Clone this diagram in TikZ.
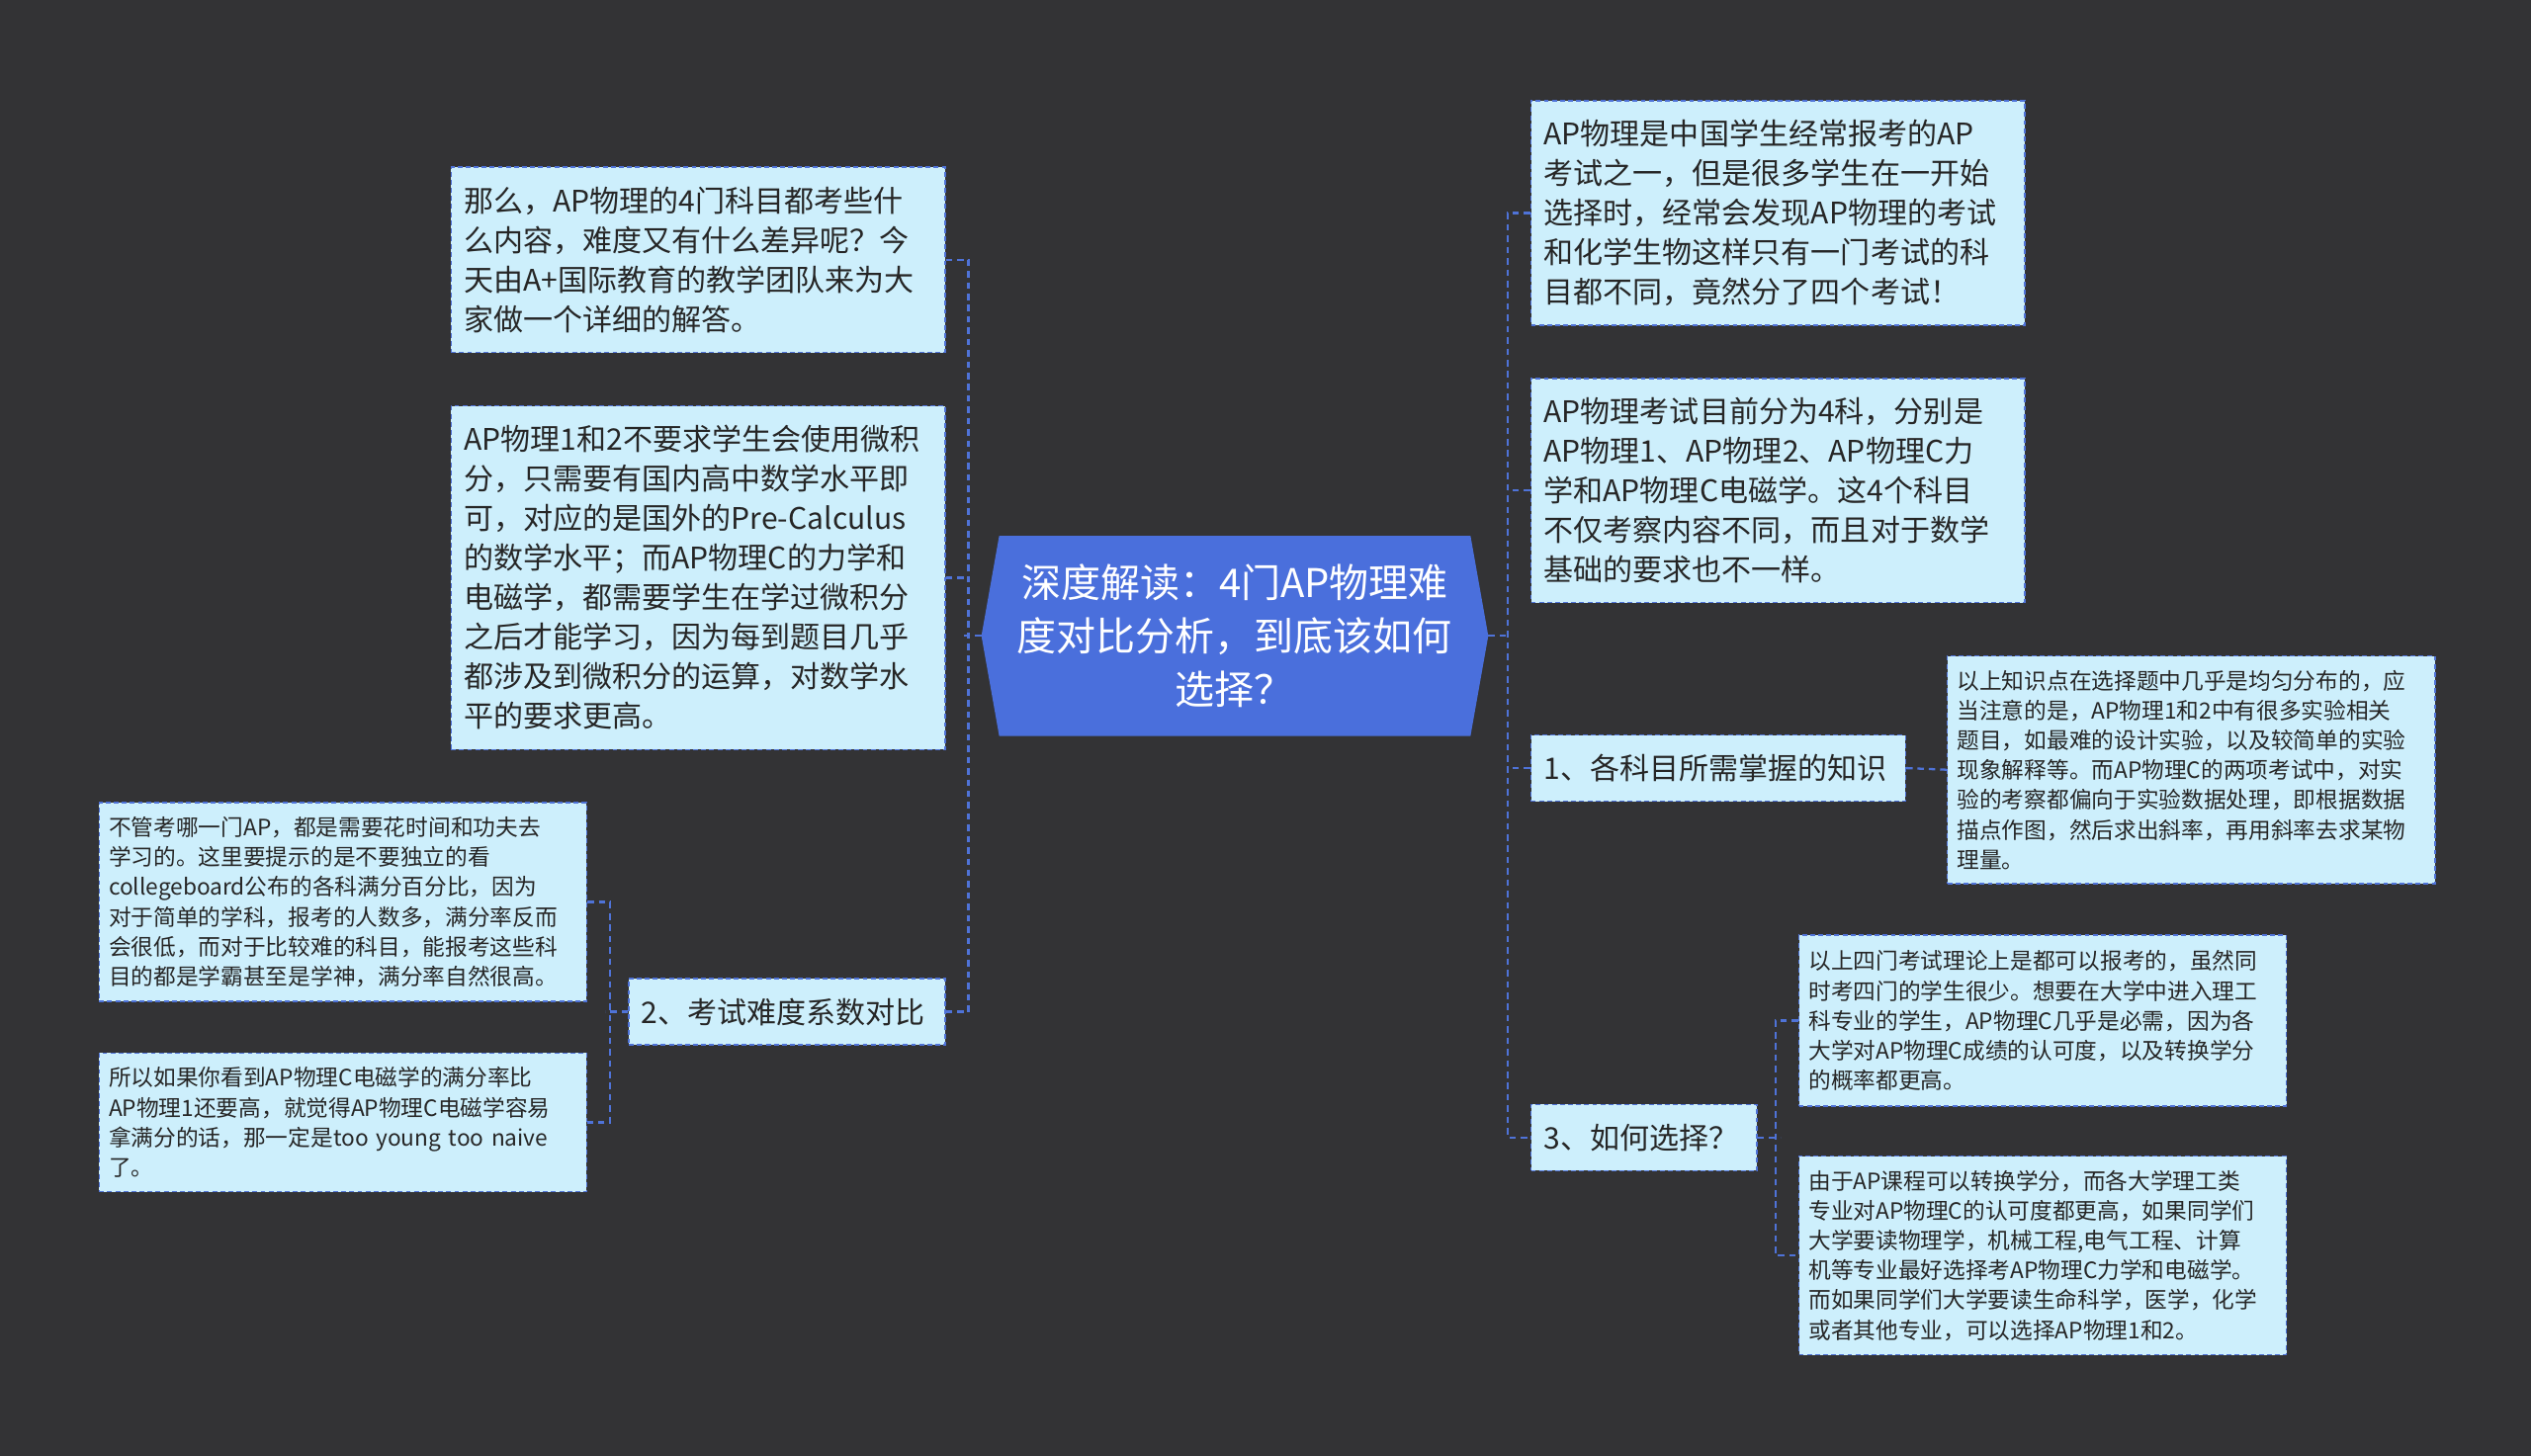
\documentclass[tikz,border=0pt]{standalone}
\usepackage{fontspec}
\setmainfont{Noto Sans CJK SC}
\begin{document}
\begin{tikzpicture}[x=1pt,y=-1pt,
  box/.style={draw=lnc,fill=boxc,dash pattern=on 3pt off 2pt,line width=0.9pt,inner sep=0pt,align=left,text=black!85,anchor=north west},
  big/.style={font=\fontsize{18.4}{24.5}\selectfont},
  small/.style={font=\fontsize{13.9}{18.5}\selectfont},
  conn/.style={draw=lnc,dash pattern=on 4pt off 3pt,line width=1.4pt}]
\definecolor{bg}{HTML}{333335}
\definecolor{boxc}{HTML}{CDEFFC}
\definecolor{lnc}{HTML}{4F73D8}
\definecolor{cen}{HTML}{4A6FDC}
\fill[bg] (0,0) rectangle (1568,902);
\useasboundingbox (0,0) rectangle (1568,902);
% center
\fill[cen] (608,394)--(619,332)--(911,332)--(922,394)--(911,456)--(619,456)--cycle;
\node[text=white,align=center,font=\fontsize{24.5}{33}\selectfont] (c) at (765,394) {深度解读：4门AP物理难\\度对比分析，到底该如何\\选择？};
\coordinate (cl) at (608,394); \coordinate (cr) at (922,394);
\node[box,big,minimum width=304,minimum height=115,text width=290,inner xsep=8pt] (l1) at (279,103) {那么，AP物理的4门科目都考些什\\么内容，难度又有什么差异呢？今\\天由A+国际教育的教学团队来为大\\家做一个详细的解答。};
\node[box,big,minimum width=304,minimum height=213,text width=290,inner xsep=8pt] (l2) at (279,251) {AP物理1和2不要求学生会使用微积\\分，只需要有国内高中数学水平即\\可，对应的是国外的Pre-Calculus\\的数学水平；而AP物理C的力学和\\电磁学，都需要学生在学过微积分\\之后才能学习，因为每到题目几乎\\都涉及到微积分的运算，对数学水\\平的要求更高。};
\node[box,big,minimum width=194,minimum height=41,text width=180,inner xsep=8pt] (l3) at (389,606) {2、考试难度系数对比};
\node[box,small,minimum width=300,minimum height=123,text width=290,inner xsep=6pt] (l31) at (61,497) {不管考哪一门AP，都是需要花时间和功夫去\\学习的。这里要提示的是不要独立的看\\collegeboard公布的各科满分百分比，因为\\对于简单的学科，报考的人数多，满分率反而\\会很低，而对于比较难的科目，能报考这些科\\目的都是学霸甚至是学神，满分率自然很高。};
\node[box,small,minimum width=300,minimum height=86,text width=290,inner xsep=6pt] (l32) at (61,652) {所以如果你看到AP物理C电磁学的满分率比\\AP物理1还要高，就觉得AP物理C电磁学容易\\拿满分的话，那一定是too young too naive\\了。};
\node[box,big,minimum width=304,minimum height=139,text width=290,inner xsep=8pt] (r1) at (948,62) {AP物理是中国学生经常报考的AP\\考试之一，但是很多学生在一开始\\选择时，经常会发现AP物理的考试\\和化学生物这样只有一门考试的科\\目都不同，竟然分了四个考试！};
\node[box,big,minimum width=304,minimum height=139,text width=290,inner xsep=8pt] (r2) at (948,234) {AP物理考试目前分为4科，分别是\\AP物理1、AP物理2、AP物理C力\\学和AP物理C电磁学。这4个科目\\不仅考察内容不同，而且对于数学\\基础的要求也不一样。};
\node[box,big,minimum width=230,minimum height=41,text width=216,inner xsep=8pt] (r3) at (948,455) {1、各科目所需掌握的知识};
\node[box,small,minimum width=300,minimum height=141,text width=290,inner xsep=6pt] (r31) at (1206,406) {以上知识点在选择题中几乎是均匀分布的，应\\当注意的是，AP物理1和2中有很多实验相关\\题目，如最难的设计实验，以及较简单的实验\\现象解释等。而AP物理C的两项考试中，对实\\验的考察都偏向于实验数据处理，即根据数据\\描点作图，然后求出斜率，再用斜率去求某物\\理量。};
\node[box,big,minimum width=138,minimum height=41,text width=124,inner xsep=8pt] (r4) at (948,684) {3、如何选择？};
\node[box,small,minimum width=300,minimum height=106,text width=290,inner xsep=6pt] (r41) at (1114,579) {以上四门考试理论上是都可以报考的，虽然同\\时考四门的学生很少。想要在大学中进入理工\\科专业的学生，AP物理C几乎是必需，因为各\\大学对AP物理C成绩的认可度，以及转换学分\\的概率都更高。};
\node[box,small,minimum width=300,minimum height=123,text width=290,inner xsep=6pt] (r42) at (1114,716) {由于AP课程可以转换学分，而各大学理工类\\专业对AP物理C的认可度都更高，如果同学们\\大学要读物理学，机械工程,电气工程、计算\\机等专业最好选择考AP物理C力学和电磁学。\\而如果同学们大学要读生命科学，医学，化学\\或者其他专业，可以选择AP物理1和2。};
% connectors
\draw[conn] (cl) -- ++(-11,0);
\draw[conn] (l1.east) -- ++(14,0) |- (l3.east);
\draw[conn] (l2.east) -- ++(14,0);
\draw[conn] (cr) -- ++(12,0);
\draw[conn] (r1.west) -- ++(-14,0) |- (r4.west);
\draw[conn] (r2.west) -- ++(-14,0);
\draw[conn] (r3.west) -- ++(-14,0);
\draw[conn] (l3.west) -- ++(-14,0);
\draw[conn] (l31.east) -- ++(14,0) |- (l32.east);
\draw[conn] (r3.east) -- (r31.west);
\draw[conn] (r4.east) -- ++(14,0);
\draw[conn] (r41.west) -- ++(-14,0) |- (r42.west);
\end{tikzpicture}
\end{document}
